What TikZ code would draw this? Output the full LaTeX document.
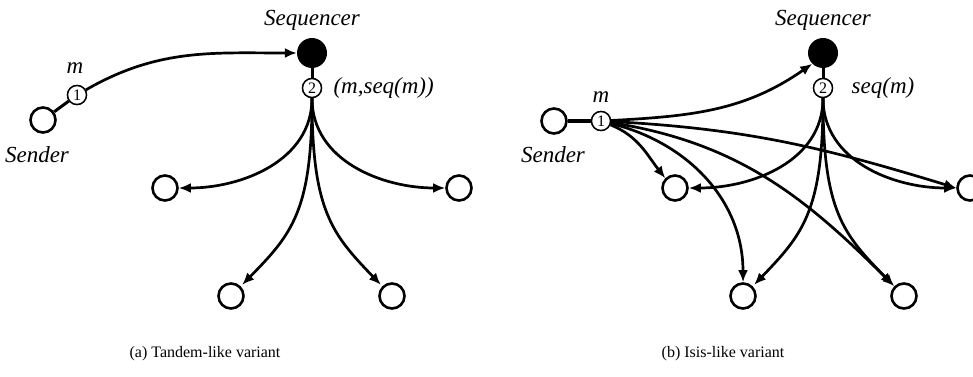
\documentclass[tikz,border=0pt]{standalone}
\usepackage{fontspec}
\setmainfont{Liberation Serif}
\usetikzlibrary{arrows.meta}
\begin{document}
\begin{tikzpicture}[x=1pt,y=1pt,
  proc/.style={circle,draw,line width=2.6pt,minimum size=25pt,inner sep=0pt},
  seqnode/.style={circle,fill=black,minimum size=30pt,inner sep=0pt},
  stepnum/.style={circle,draw,line width=1.4pt,fill=white,minimum size=19pt,inner sep=0pt,font=\fontsize{16}{16}\selectfont},
  lbl/.style={font=\fontsize{23}{23}\selectfont\itshape},
  captxt/.style={font=\fontsize{16}{16}\selectfont},
  msg/.style={line width=2.7pt,-{Latex[length=12pt,width=10pt]}},
  link/.style={line width=3pt}]
\useasboundingbox (0,0) rectangle (973,376);

% ---------- (a) Tandem-like ----------
\node[seqnode] (seqA) at (312,323) {};
\node[stepnum] (twoA) at (312,288) {2};
\node[proc] (sendA) at (43,256) {};
\node[stepnum] (oneA) at (77,281) {1};
\node[proc] (rAL) at (165,188) {};
\node[proc] (rAR) at (459,188) {};
\node[proc] (bAL) at (231,80) {};
\node[proc] (bAR) at (392,80) {};

\node[lbl] (seqlblA) at (312,356) {Sequencer};
\node[lbl] (mA) at (75,308) {m};
\node[lbl] (sendlblA) at (37,221) {Sender};
\node[lbl,anchor=west] (pairA) at (330,288) {(m,seq(m))};
\node[captxt,anchor=base] (capA) at (205,19) {(a) Tandem-like variant};

\draw[link] (sendA) -- (oneA);
\draw[link] (twoA) -- (seqA);
\draw[msg] (oneA) to[out=30,in=180] (seqA.west);
\draw[msg] (twoA.south) to[out=-90,in=0] (rAL.east);
\draw[msg] (twoA.south) to[out=-90,in=180] (rAR.west);
\draw[msg,shorten >=2pt] (twoA.south) .. controls (312,165) and (292,142) .. (bAL.north east);
\draw[msg,shorten >=2pt] (twoA.south) .. controls (312,165) and (332,142) .. (bAR.north west);

% ---------- (b) Isis-like ----------
\node[seqnode] (seqB) at (823,323) {};
\node[stepnum] (twoB) at (823,288) {2};
\node[proc] (sendB) at (554,255) {};
\node[stepnum] (oneB) at (601,255) {1};
\node[proc] (rBL) at (675,188) {};
\node[proc] (rBR) at (970,188) {};
\node[proc] (bBL) at (743,80) {};
\node[proc] (bBR) at (904,80) {};

\node[lbl] (seqlblB) at (823,356) {Sequencer};
\node[lbl] (mB) at (601,279) {m};
\node[lbl] (sendlblB) at (553,221) {Sender};
\node[lbl] (seqmB) at (883,288) {seq(m)};
\node[captxt,anchor=base] (capB) at (723,19) {(b) Isis-like variant};

\draw[link,line width=3.8pt] (sendB) -- (oneB);
\draw[link] (twoB) -- (seqB);
% from sender's step 1
\draw[msg] (oneB) to[out=3,in=215] (seqB.225);
\draw[msg] (oneB) to[out=-22,in=128] (rBL.north west);
\draw[msg] (oneB) to[out=-14,in=90] (bBL.north);
\draw[msg] (oneB) to[out=-9,in=135] (bBR.north west);
\draw[msg] (oneB) to[out=-3,in=163] (rBR.west);
% from sequencer's step 2
\draw[msg] (twoB.south) to[out=-90,in=0] (rBL.east);
\draw[msg] (twoB.south) to[out=-90,in=180] (rBR.west);
\draw[msg,shorten >=2pt] (twoB.south) .. controls (823,165) and (803,142) .. (bBL.north east);
\draw[msg,shorten >=2pt] (twoB.south) .. controls (823,165) and (843,142) .. (bBR.north west);

% redraw step circles on top
\node[stepnum] at (twoA) {2};
\node[stepnum] at (oneA) {1};
\node[stepnum] at (twoB) {2};
\node[stepnum] at (oneB) {1};
\end{tikzpicture}
\end{document}
